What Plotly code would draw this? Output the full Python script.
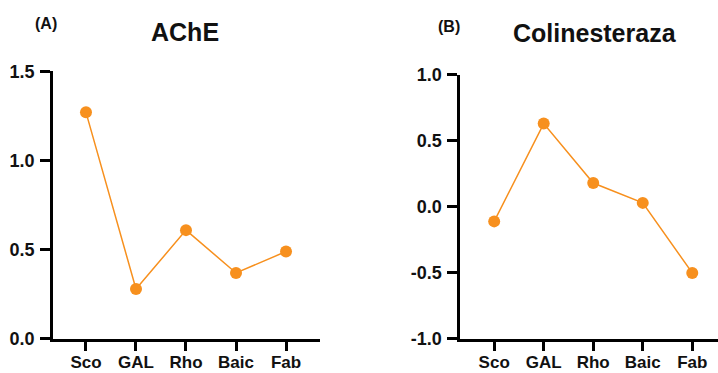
import plotly.graph_objects as go

# Treatment groups shared by both panels
groups = ["Sco", "GAL", "Rho", "Baic", "Fab"]

# Panel (A): AChE
ache_values = [1.27, 0.28, 0.61, 0.37, 0.49]
ache_ticks = [0.0, 0.5, 1.0, 1.5]

# Panel (B): Colinesteraza
chol_values = [-0.11, 0.63, 0.18, 0.03, -0.50]
chol_ticks = [-1.0, -0.5, 0.0, 0.5, 1.0]

ORANGE = "#F7901E"
FONT = "Liberation Sans, Arial, sans-serif"

fig = go.Figure()

fig.add_trace(go.Scatter(
    x=groups, y=ache_values, xaxis="x", yaxis="y",
    mode="lines+markers",
    line=dict(color=ORANGE, width=1.5),
    marker=dict(color=ORANGE, size=12),
    showlegend=False, cliponaxis=False,
))
fig.add_trace(go.Scatter(
    x=groups, y=chol_values, xaxis="x2", yaxis="y2",
    mode="lines+markers",
    line=dict(color=ORANGE, width=1.5),
    marker=dict(color=ORANGE, size=12),
    showlegend=False, cliponaxis=False,
))

tick_font = dict(family=FONT, size=18, color="#111111", weight="bold")

common_x = dict(
    type="category", categoryorder="array", categoryarray=groups,
    showline=True, linecolor="black", linewidth=2.5,
    ticks="outside", ticklen=9, tickwidth=2.5, tickcolor="black",
    showgrid=False, zeroline=False, tickfont=dict(tick_font, size=17),
    fixedrange=True, automargin=False, ticklabelstandoff=-3,
)
common_y = dict(
    showline=True, linecolor="black", linewidth=2.5,
    ticks="outside", ticklen=10, tickwidth=2.5, tickcolor="black",
    showgrid=False, zeroline=False, tickfont=tick_font, fixedrange=True,
    automargin=False, ticklabelstandoff=2,
)

def label(text, x, y, size):
    return dict(text=f"<b>{text}</b>", x=x / 718, y=1 - y / 373,
                xref="paper", yref="paper", xanchor="center", yanchor="middle",
                showarrow=False, font=dict(family=FONT, size=size, color="#111111"))

fig.update_layout(
    width=718, height=373,
    margin=dict(l=0, r=0, t=0, b=0),
    paper_bgcolor="white", plot_bgcolor="white",
    xaxis=dict(common_x, domain=[0.0738, 0.4457], range=[-0.66, 4.68], anchor="y"),
    yaxis=dict(common_y, domain=[0.0912, 0.8088], range=[0, 1.5],
               tickvals=ache_ticks, ticktext=[f"{v:.1f}" for v in ache_ticks], anchor="x"),
    xaxis2=dict(common_x, domain=[0.6407, 1.0], range=[-0.69, 4.52], anchor="y2"),
    yaxis2=dict(common_y, domain=[0.0912, 0.7997], range=[-1, 1],
                tickvals=chol_ticks, ticktext=[f"{v:.1f}" for v in chol_ticks], anchor="x2"),
    annotations=[
        label("(A)", 46.5, 23.5, 16),
        label("AChE", 185, 32, 25),
        label("(B)", 449, 26, 16),
        label("Colinesteraza", 594.5, 33, 25),
    ],
)

fig.write_html("out.html")
